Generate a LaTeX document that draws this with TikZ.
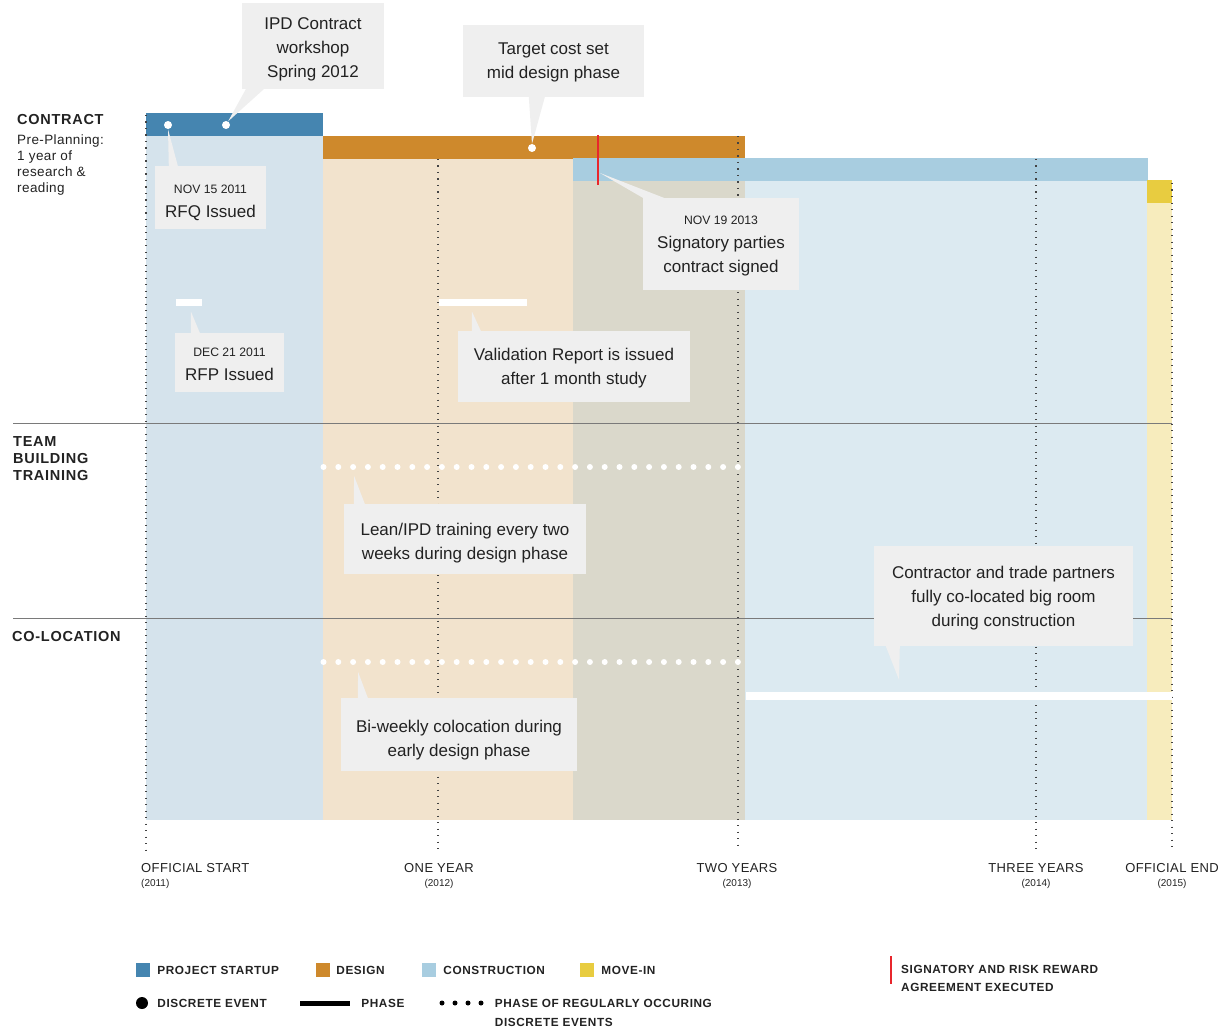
\documentclass[tikz,border=0pt]{standalone}
\usepackage{fontspec}
\setmainfont{Liberation Sans}
\newfontfamily\capsfont[LetterSpace=3]{Liberation Sans}
\newfontfamily\headfont[LetterSpace=5]{Liberation Sans}
\usepackage{tikz}
\usetikzlibrary{positioning}

\definecolor{startup}{HTML}{4585B0}
\definecolor{startlight}{HTML}{D5E3EC}
\definecolor{design}{HTML}{CE892C}
\definecolor{designlight}{HTML}{F2E3CD}
\definecolor{overlap}{HTML}{DAD8CB}
\definecolor{build}{HTML}{A8CDE0}
\definecolor{buildlight}{HTML}{DCEAF1}
\definecolor{movein}{HTML}{E8CC40}
\definecolor{moveinlight}{HTML}{F7ECBD}
\definecolor{callbg}{HTML}{EFEFEF}
\definecolor{ink}{HTML}{222222}
\definecolor{rulegrey}{HTML}{7A7A7A}
\definecolor{signred}{HTML}{E8262C}

\newcommand\datefont{\fontsize{12.2}{23}\selectfont}
\newcommand\dateline[2][20pt]{{\datefont\rule{0pt}{#1}#2}}
\newcommand\lift[1]{\rule{0pt}{#1}}

\tikzset{
  callout/.style={fill=callbg, inner sep=0pt, align=center, text=ink,
    font=\fontsize{17}{24}\selectfont},
  evdot/.style={circle, fill=white, inner sep=0pt, minimum size=8pt},
  rowdot/.style={circle, fill=white, inner sep=0pt, minimum size=6pt},
  phasebar/.style={fill=white, inner sep=0pt, minimum height=7pt},
  yearline/.style={draw=ink!85, line width=1.1pt, dash pattern=on 1.1pt off 5.4pt},
  rowline/.style={draw=rulegrey, line width=1pt},
  rowlabel/.style={anchor=base west, inner sep=0pt, text=ink, font=\headfont\bfseries\fontsize{14.5}{14.5}\selectfont},
  notelabel/.style={anchor=base west, inner sep=0pt, text=ink, font=\capsfont\fontsize{13.5}{13.5}\selectfont},
  axislabel/.style={anchor=base, inner sep=0pt, text=ink, font=\capsfont\fontsize{13}{13}\selectfont},
  yearlabel/.style={anchor=base, inner sep=0pt, text=ink, font=\fontsize{10}{10}\selectfont},
  legbox/.style={minimum size=14pt, inner sep=0pt},
  legtext/.style={inner sep=0pt, text=ink, font=\headfont\bfseries\fontsize{11.8}{11.8}\selectfont},
}

\begin{document}
\begin{tikzpicture}[x=1pt,y=-1pt]
  \useasboundingbox (0,0) rectangle (1224,1030);

  % phases
  \fill[startlight] (146,136) rectangle (323,820);
  \fill[startup] (146,113) rectangle (323,136);
  \fill[designlight] (323,159) rectangle (573,820);
  \fill[design] (323,136) rectangle (745,159);
  \fill[overlap] (573,181) rectangle (745,820);
  \fill[buildlight] (745,181) rectangle (1148,820);
  \fill[build] (573,158) rectangle (1148,181);
  \fill[moveinlight] (1147,203) rectangle (1172,820);
  \fill[movein] (1147,180) rectangle (1172,203);

  % years
  \draw[yearline] (146,115) -- (146,850);
  \draw[yearline] (438,159) -- (438,850);
  \draw[yearline] (738,136) -- (738,850);
  \draw[yearline] (1036,159) -- (1036,850);
  \draw[yearline] (1172,183) -- (1172,850);

  \draw[rowline] (13,423) -- (1172,423);
  \draw[rowline] (13,618) -- (1172,618);

  % events and phases
  \draw[signred, line width=2pt] (598,135) -- (598,185);
  \coordinate (sign) at (600,173);
  \node[evdot] (rfq) at (168,125) {};
  \node[evdot] (ipdws) at (226,125) {};
  \node[evdot] (target) at (532,148) {};
  \node[phasebar, minimum width=26pt] (rfp) at (189,302) {};
  \node[phasebar, minimum width=88pt] (valid) at (483,302) {};
  \node[phasebar, minimum width=426pt, minimum height=8pt] (bigroom) at (959,696) {};
  \foreach \i in {0,...,28} {
    \node[rowdot] (lean\i) at (323.5+14.8*\i,467) {};
    \node[rowdot] (colo\i) at (323.5+14.8*\i,662) {};
  }

  % callouts
  \node[callout, minimum width=142pt, minimum height=86pt] (ipdbox) at (313,46)
    {\lift{18.4pt}IPD Contract\\workshop\\Spring 2012};
  \node[callout, minimum width=181pt, minimum height=72pt] (targetbox) at (553.5,61)
    {\lift{14.4pt}Target cost set\\mid design phase};
  \node[callout, minimum width=111pt, minimum height=63pt] (rfqbox) at (210.5,197.5)
    {\dateline{NOV 15 2011}\\RFQ Issued};
  \node[callout, minimum width=156pt, minimum height=92pt] (signbox) at (721,244)
    {\dateline[12pt]{NOV 19 2013}\\Signatory parties\\contract signed};
  \node[callout, minimum width=109pt, minimum height=59pt] (rfpbox) at (229.5,362.5)
    {\dateline[12pt]{DEC 21 2011}\\RFP Issued};
  \node[callout, minimum width=232pt, minimum height=71pt] (validbox) at (574,366.5)
    {\lift{16.4pt}Validation Report is issued\\after 1 month study};
  \node[callout, minimum width=242pt, minimum height=70pt] (leanbox) at (465,539)
    {\lift{20.4pt}Lean/IPD training every two\\weeks during design phase};
  \node[callout, minimum width=236pt, minimum height=73pt] (colobox) at (459,734.5)
    {\lift{24.4pt}Bi-weekly colocation during\\early design phase};
  \node[callout, minimum width=259pt, minimum height=100pt] (roombox) at (1003.5,596)
    {\lift{16.4pt}Contractor and trade partners\\fully co-located big room\\during construction};

  \fill[callbg] (ipdws.60) -- ([xshift=4pt]ipdbox.south west) -- ([xshift=22pt]ipdbox.south west) -- cycle;
  \fill[callbg] (target.north) -- ([xshift=66pt]targetbox.south west) -- ([xshift=82pt]targetbox.south west) -- cycle;
  \fill[callbg] (rfq.south) -- ([xshift=14pt]rfqbox.north west) -- ([xshift=23pt]rfqbox.north west) -- cycle;
  \fill[callbg] (sign) -- (signbox.north west) -- ([xshift=21pt]signbox.north west) -- cycle;
  \fill[callbg] ([xshift=2pt,yshift=-6pt]rfp.south) -- ([xshift=16pt]rfpbox.north west) -- ([xshift=25pt]rfpbox.north west) -- cycle;
  \fill[callbg] ([xshift=-11pt,yshift=-6pt]valid.south) -- ([xshift=14pt]validbox.north west) -- ([xshift=23pt]validbox.north west) -- cycle;
  \fill[callbg] ([xshift=1pt,yshift=-9pt]lean2.center) -- ([xshift=10pt]leanbox.north west) -- ([xshift=21pt]leanbox.north west) -- cycle;
  \fill[callbg] ([xshift=5pt,yshift=-10pt]colo2.center) -- ([xshift=17pt]colobox.north west) -- ([xshift=27pt]colobox.north west) -- cycle;
  \fill[callbg] ([xshift=-60pt,yshift=12pt]bigroom.north) -- ([xshift=12pt]roombox.south west) -- ([xshift=26pt]roombox.south west) -- cycle;

  % rows
  \node[rowlabel] (contract) at (17,125) {CONTRACT};
  \foreach \t [count=\k] in {Pre-Planning:, 1 year of, research \&, reading}
    \node[notelabel] (pre\k) at (17,128.5+16*\k) {\t};
  \node[rowlabel] (team) at (13,446.5) {TEAM};
  \node[rowlabel] (building) at (13,463.5) {BUILDING};
  \node[rowlabel] (training) at (13,480.5) {TRAINING};
  \node[rowlabel] (coloc) at (12,641.5) {CO-LOCATION};

  % axis
  \node[axislabel, anchor=base west] (start) at (141,872.5) {OFFICIAL START};
  \node[yearlabel, anchor=base west] (y2011) at (141,886.5) {(2011)};
  \node[axislabel] (one) at (439,872.5) {ONE YEAR};
  \node[yearlabel] (y2012) at (439,886.5) {(2012)};
  \node[axislabel] (two) at (737,872.5) {TWO YEARS};
  \node[yearlabel] (y2013) at (737,886.5) {(2013)};
  \node[axislabel] (three) at (1036,872.5) {THREE YEARS};
  \node[yearlabel] (y2014) at (1036,886.5) {(2014)};
  \node[axislabel] (end) at (1172,872.5) {OFFICIAL END};
  \node[yearlabel] (y2015) at (1172,886.5) {(2015)};

  % legend
  \node[legbox, fill=startup] (kstart) at (143,970) {};
  \node[legtext, right=7pt of kstart] {PROJECT STARTUP};
  \node[legbox, fill=design] (kdesign) at (323,970) {};
  \node[legtext, right=6pt of kdesign] {DESIGN};
  \node[legbox, fill=build] (kbuild) at (429,970) {};
  \node[legtext, right=7pt of kbuild] {CONSTRUCTION};
  \node[legbox, fill=movein] (kmove) at (587,970) {};
  \node[legtext, right=7pt of kmove] {MOVE-IN};

  \node[circle, fill=black, inner sep=0pt, minimum size=12pt] (kevent) at (142,1003) {};
  \node[legtext, right=9pt of kevent] {DISCRETE EVENT};
  \node[fill=black, inner sep=0pt, minimum width=50pt, minimum height=5pt] (kphase) at (325,1003) {};
  \node[legtext, right=11pt of kphase] {PHASE};
  \foreach \i in {0,...,3}
    \node[circle, fill=black, inner sep=0pt, minimum size=5pt] (kreg\i) at (442+13*\i,1003) {};
  \node[legtext, right=11pt of kreg3] (kregtext) {PHASE OF REGULARLY OCCURING};
  \node[legtext, anchor=west] at ([yshift=-19pt]kregtext.west) {DISCRETE EVENTS};

  \draw[signred, line width=2pt] (891,956) -- (891,984);
  \node[legtext, anchor=west] (ksign) at (901,969) {SIGNATORY AND RISK REWARD};
  \node[legtext, anchor=west] at ([yshift=-18pt]ksign.west) {AGREEMENT EXECUTED};
\end{tikzpicture}
\end{document}
